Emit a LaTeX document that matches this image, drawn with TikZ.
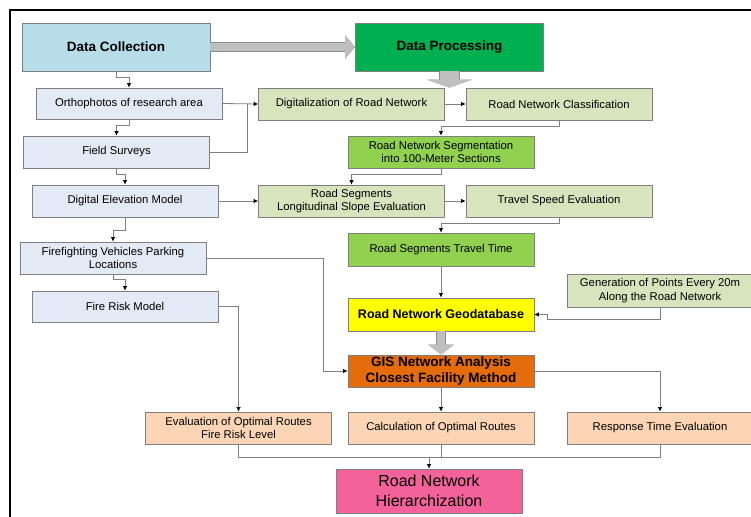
\documentclass[tikz,border=0pt]{standalone}
\usepackage{fontspec}
\setmainfont{Liberation Sans}
\usetikzlibrary{arrows.meta}

\definecolor{collectblue}{HTML}{B7DEE8}
\definecolor{processgreen}{HTML}{00B050}
\definecolor{inputblue}{HTML}{E4EAF5}
\definecolor{stepgreen}{HTML}{D7E4BD}
\definecolor{keygreen}{HTML}{92D050}
\definecolor{geoyellow}{HTML}{FFFF00}
\definecolor{gisorange}{HTML}{E46C0A}
\definecolor{resultpeach}{HTML}{FBD5B5}
\definecolor{finalpink}{HTML}{F36399}
\definecolor{edgegray}{HTML}{7F7F7F}
\definecolor{arrowgray}{HTML}{BFBFBF}
\definecolor{arrowedge}{HTML}{8C8C8C}

\tikzset{
	box/.style={draw=edgegray, line width=0.8pt, minimum width=186pt, minimum height=32pt,
		inner sep=1pt, align=center, font=\fontsize{11.3}{13.5}\selectfont},
	input/.style={box, fill=inputblue},
	stepbox/.style={box, fill=stepgreen},
	keybox/.style={box, fill=keygreen},
	resultbox/.style={box, fill=resultpeach},
	headbox/.style={box, minimum width=188pt, minimum height=48pt,
		font=\fontsize{13.5}{16}\selectfont\bfseries},
	line/.style={draw=edgegray, line width=0.8pt},
	conn/.style={line, -{Latex[black,length=4.5pt,width=4.5pt]}},
	bigarrow/.style={draw=arrowgray, line width=#1,
		preaction={draw=arrowedge, line width=#1+1.2pt}},
}

\begin{document}
\begin{tikzpicture}[x=1pt, y=-1pt]
	\useasboundingbox (0,0) rectangle (751,516);
	\draw[line width=2.5pt] (10,518) -- (10,10) -- (753,10);

	%%% HEADERS
	\node[headbox, fill=collectblue] (dc) at (116,47) {Data Collection};
	\node[headbox, fill=processgreen] (dp) at (449.5,47) {Data Processing};

	%%% DATA COLLECTION
	\node[input, minimum height=31pt] (ortho) at (129,103.5) {Orthophotos of research area};
	\node[input] (fs) at (116.5,152) {Field Surveys};
	\node[input] (dem) at (125,201) {Digital Elevation Model};
	\node[input] (ffv) at (113,258) {Firefighting Vehicles Parking\\Locations};
	\node[input, minimum height=31pt] (frm) at (125,306.5) {Fire Risk Model};

	%%% DATA PROCESSING
	\node[stepbox] (digit) at (351.5,104) {Digitalization of Road Network};
	\node[stepbox] (class) at (559,104) {Road Network Classification};
	\node[keybox] (seg) at (441,152) {Road Network Segmentation\\into 100-Meter Sections};
	\node[stepbox] (slope) at (351.5,201) {Road Segments\\Longitudinal Slope Evaluation};
	\node[stepbox] (speed) at (559,201) {Travel Speed Evaluation};
	\node[keybox, minimum height=33pt] (ttime) at (441,249.5) {Road Segments Travel Time};
	\node[stepbox, minimum height=33pt] (gen) at (660,290.5) {Generation of Points Every 20m\\Along the Road Network};
	\node[box, fill=geoyellow, minimum height=33pt, font=\fontsize{12.5}{15}\selectfont\bfseries] (geo) at (441,314.5) {Road Network Geodatabase};
	\node[box, fill=gisorange, font=\fontsize{13.5}{15.5}\selectfont\bfseries] (gis) at (441,371) {GIS Network Analysis\\Closest Facility Method};

	%%% RESULTS
	\node[resultbox] (evalr) at (238.5,428) {Evaluation of Optimal Routes\\Fire Risk Level};
	\node[resultbox] (calc) at (441,428) {Calculation of Optimal Routes};
	\node[resultbox] (resp) at (660,428) {Response Time Evaluation};
	\node[box, fill=finalpink, minimum height=44pt, font=\fontsize{16}{20}\selectfont] (hier) at (429,491) {Road Network\\Hierarchization};

	%%% BIG ARROWS
	\draw[bigarrow=8pt, -{Triangle[length=10pt,width=23pt]}] (dc) -- (dp);
	\draw[bigarrow=19pt, -{Triangle[length=8pt,width=45pt]}] (dp.south) -- (dp.south |- digit.north);
	\draw[bigarrow=8pt, -{Triangle[length=10pt,width=25pt]}] (geo) -- (gis);

	%%% RELATIONS
	\draw[conn] (dc.south) -- ++(0,6) -| (ortho.north);
	\draw[conn] (ortho.south) -- ++(0,6) -| (fs.north);
	\draw[conn] (fs.south) -- ++(0,6) -| (dem.north);
	\draw[conn] (dem.south) -- ++(0,13) -| (ffv.north);
	\draw[conn] (ffv.south) -- ++(0,5) -| (frm.north);
	\draw[conn] (ortho.east) -- (digit.west);
	\draw[line] (fs.east) -| ([xshift=-11pt]digit.west);
	\draw[conn] (dem.east) -- (slope.west);
	\draw[conn] (digit) -- (class);
	\draw[conn] (class.south) -- ++(0,6) -| (seg.north);
	\draw[conn] (seg.south) -- ++(0,6) -| (slope.north);
	\draw[conn] (slope) -- (speed);
	\draw[conn] (speed.south) -- ++(0,6) -| (ttime.north);
	\draw[conn] (ttime) -- (geo);
	\draw[conn] (gen.south) -- ++(0,12) -- ++(-113,0) |- (geo.east);
	\draw[conn] (ffv.east) -- ++(117,0) |- (gis.west);
	\draw[conn] (frm.east) -| (evalr.north);
	\draw[conn] (gis.east) -| (resp.north);
	\draw[conn] (gis) -- (calc);
	\draw[line] (evalr.south) -- ++(0,13) -| (resp.south);
	\draw[line] (calc.south) -- ++(0,13);
	\draw[conn] ([yshift=12pt]hier.north) -- (hier.north);
\end{tikzpicture}
\end{document}
